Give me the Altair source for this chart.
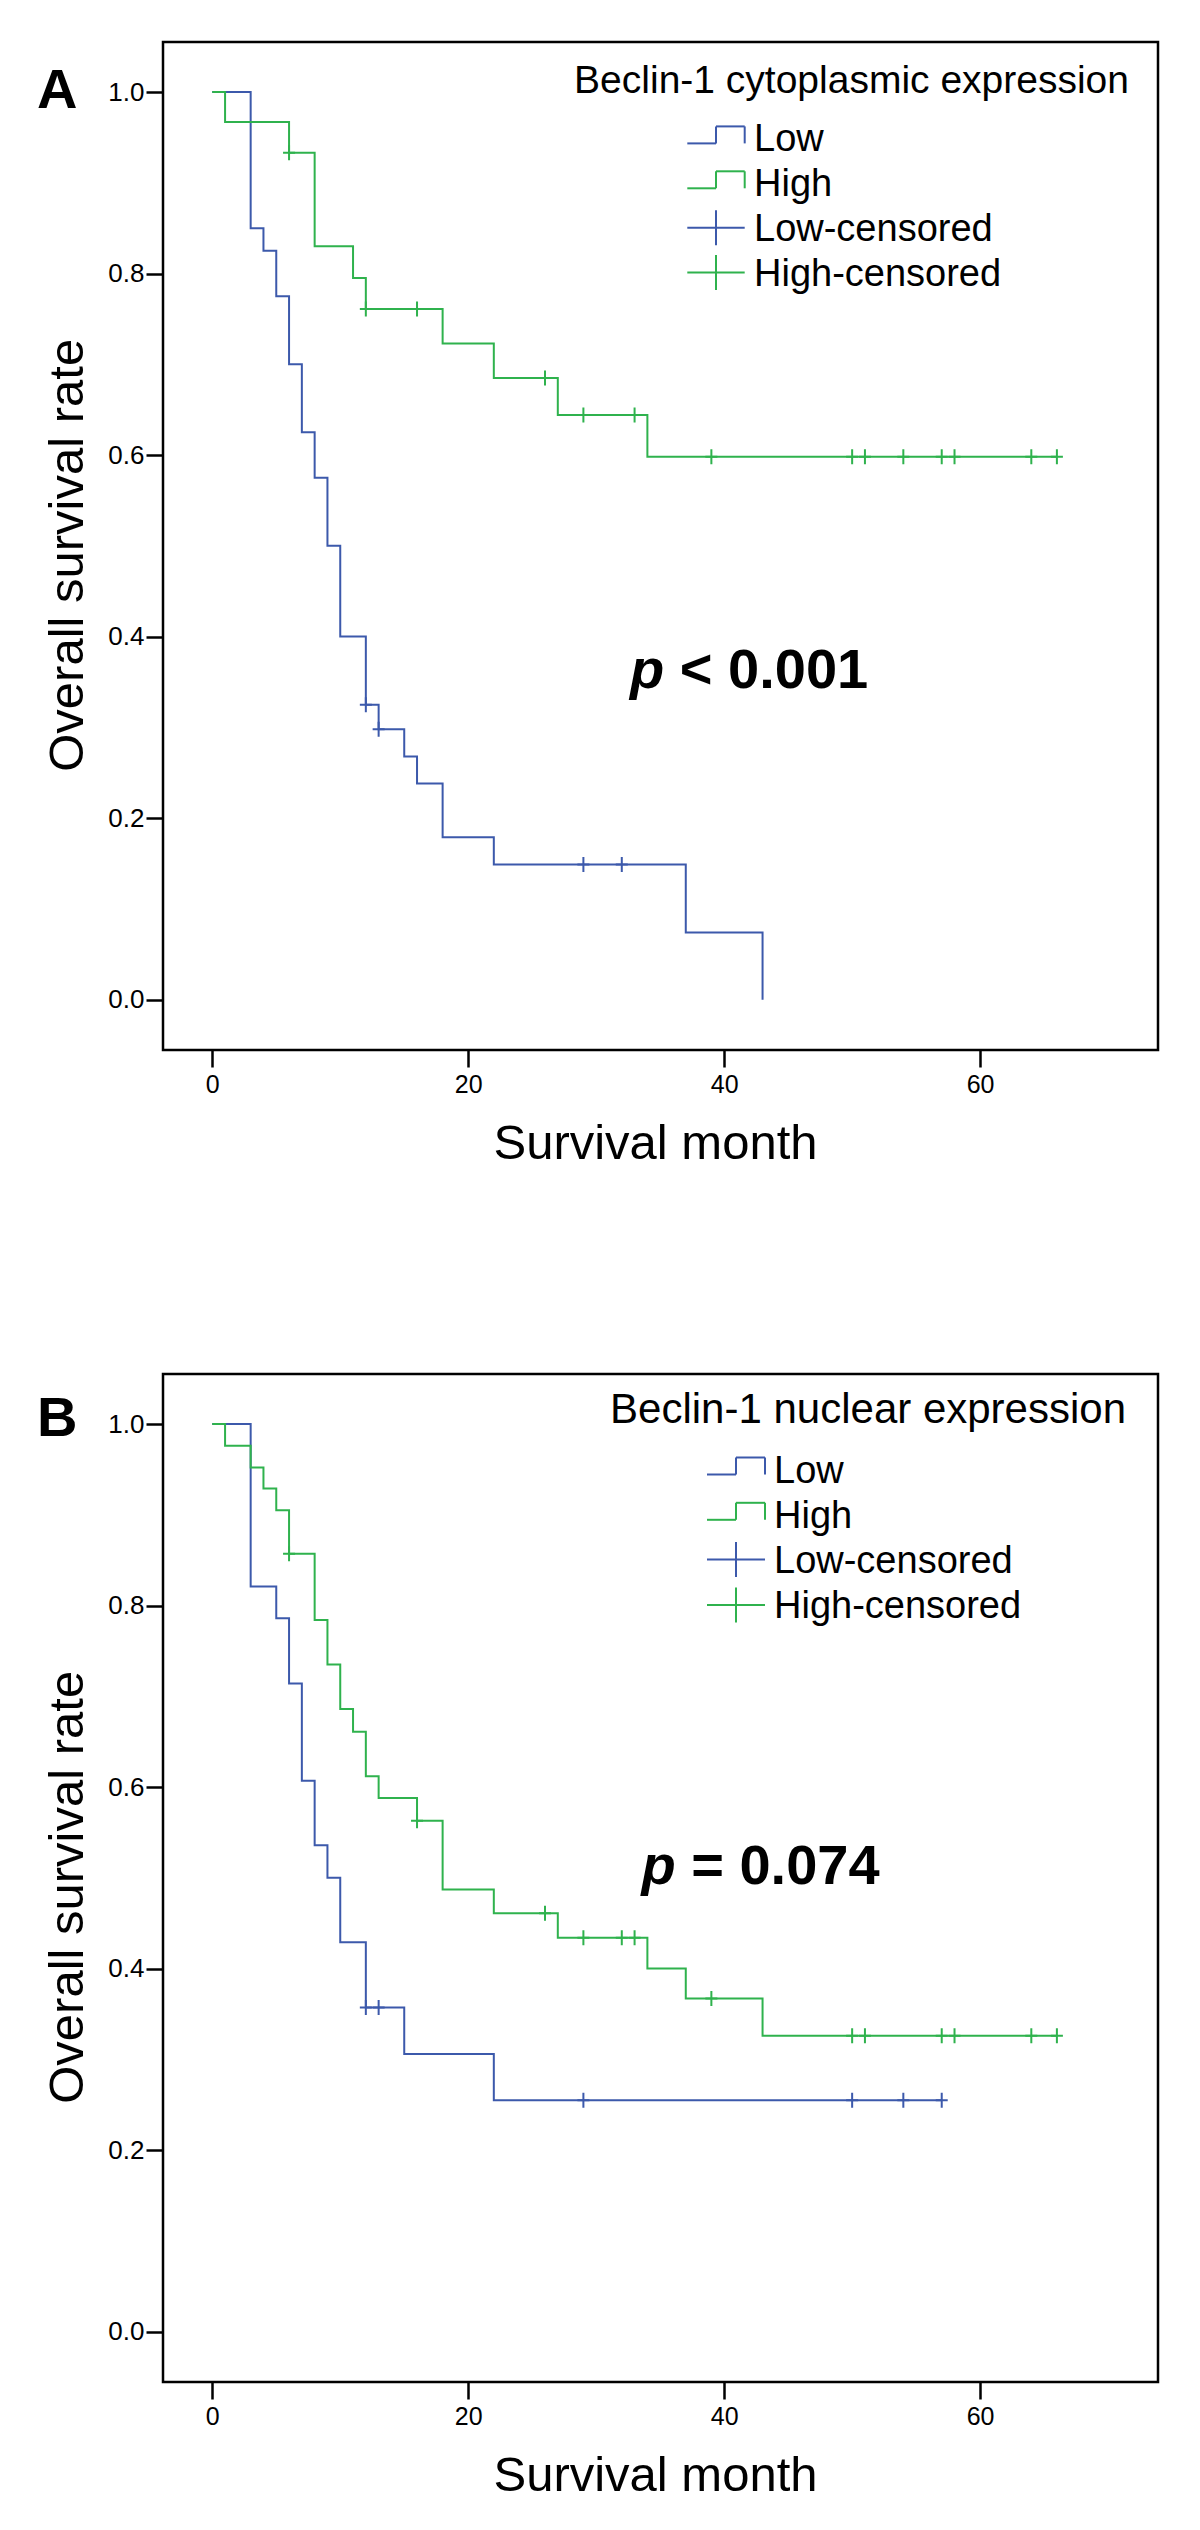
import altair as alt
import pandas as pd

# ---------------- data ----------------
# Panel A: Beclin-1 cytoplasmic expression
a_low_time = [0, 3, 4, 5, 6, 7, 8, 9, 10, 12, 13, 15, 16, 18, 22, 37, 43]
a_low_surv = [1.0, 0.850, 0.825, 0.775, 0.700, 0.625, 0.575, 0.500, 0.400,
              0.325, 0.298, 0.268, 0.238, 0.179, 0.149, 0.074, 0.0]
a_low_cens_time = [12, 13, 29, 32]
a_low_cens_surv = [0.325, 0.298, 0.149, 0.149]

a_high_time = [0, 1, 6, 8, 11, 12, 18, 22, 27, 34, 66]
a_high_surv = [1.0, 0.967, 0.933, 0.830, 0.795, 0.761, 0.723, 0.685, 0.644, 0.598, 0.598]
a_high_cens_time = [6, 12, 16, 26, 29, 33, 39, 50, 51, 54, 57, 58, 64, 66]
a_high_cens_surv = [0.933, 0.761, 0.761, 0.685, 0.644, 0.644, 0.598, 0.598,
                    0.598, 0.598, 0.598, 0.598, 0.598, 0.598]

# Panel B: Beclin-1 nuclear expression
b_low_time = [0, 3, 5, 6, 7, 8, 9, 10, 12, 15, 22, 57]
b_low_surv = [1.0, 0.821, 0.786, 0.714, 0.607, 0.536, 0.500, 0.429, 0.357, 0.306, 0.255, 0.255]
b_low_cens_time = [12, 13, 29, 50, 54, 57]
b_low_cens_surv = [0.357, 0.357, 0.255, 0.255, 0.255, 0.255]

b_high_time = [0, 1, 3, 4, 5, 6, 8, 9, 10, 11, 12, 13, 16, 18, 22, 27, 34, 37, 43, 66]
b_high_surv = [1.0, 0.976, 0.952, 0.929, 0.905, 0.857, 0.784, 0.735, 0.686, 0.661,
               0.612, 0.588, 0.563, 0.487, 0.461, 0.434, 0.400, 0.367, 0.326, 0.326]
b_high_cens_time = [6, 16, 26, 29, 32, 33, 39, 50, 51, 57, 58, 64, 66]
b_high_cens_surv = [0.857, 0.563, 0.461, 0.434, 0.434, 0.434, 0.367, 0.326,
                    0.326, 0.326, 0.326, 0.326, 0.326]

legend_labels = ["Low", "High", "Low-censored", "High-censored"]
x_ticks = [0, 20, 40, 60]
y_ticks = [0.0, 0.2, 0.4, 0.6, 0.8, 1.0]

BLUE = "#3c59ab"
GREEN = "#2fb24d"
FONT = "Liberation Sans"
W, H = 995, 1008

x_scale = alt.Scale(domain=[-3.85, 73.9], nice=False, zero=False)
y_scale = alt.Scale(domain=[-0.0555, 1.0551], nice=False, zero=False)

CROSS = "M-0.8,0L0.8,0M0,-1L0,1"
ONE = pd.DataFrame({"k": [0]})


def df(t, s):
    return pd.DataFrame({"time": t, "surv": s})


def text_layer(txt, x, y, size, align="left", weight="normal", style="normal", baseline="alphabetic"):
    return alt.Chart(ONE).mark_text(
        text=txt, align=align, baseline=baseline, font=FONT, fontSize=size,
        fontWeight=weight, fontStyle=style, color="black"
    ).encode(x=alt.value(x), y=alt.value(y))


def seg(x0, x1, y0, y1, color):
    return alt.Chart(ONE).mark_rule(color=color, strokeWidth=2).encode(
        x=alt.value(x0), x2=alt.value(x1), y=alt.value(y0), y2=alt.value(y1))


def panel(low_t, low_s, lowc_t, lowc_s, high_t, high_s, highc_t, highc_s,
          letter, letter_base, leg_title, leg_title_size, leg_title_x, leg_title_base,
          sym_x0, sym_x1, lab_x, base0, gap, p_main, p_x, p_base):
    xax = alt.Axis(values=x_ticks, format="d", title="Survival month",
                   titleX=492, titleY=108.6, titleBaseline="alphabetic", titleAlign="center")
    yax = alt.Axis(values=y_ticks, format=".1f", title="Overall survival rate",
                   titleX=-80.3, titleY=512.8, titleAngle=270, titleBaseline="alphabetic",
                   titleAlign="center")

    def enc():
        return dict(x=alt.X("time:Q", scale=x_scale, axis=xax),
                    y=alt.Y("surv:Q", scale=y_scale, axis=yax))

    def line(d, color):
        return alt.Chart(d).mark_line(interpolate="step-after", color=color,
                                      strokeWidth=2).encode(**enc())

    def cens(d, color):
        return alt.Chart(d).mark_point(shape=CROSS, filled=False, size=225, strokeWidth=2,
                                       color=color, opacity=1).encode(**enc())

    layers = [
        line(df(low_t, low_s), BLUE),
        line(df(high_t, high_s), GREEN),
        cens(df(lowc_t, lowc_s), BLUE),
        cens(df(highc_t, highc_s), GREEN),
    ]

    # legend (drawn by hand, SPSS style)
    xm = (sym_x0 + sym_x1) / 2
    colors = [BLUE, GREEN, BLUE, GREEN]
    for i, (lab, col) in enumerate(zip(legend_labels, colors)):
        b = base0 + gap * i
        if i < 2:
            lo, up = b - 8, b - 25
            layers += [seg(sym_x0, xm, lo, lo, col), seg(xm, xm, lo, up, col),
                       seg(xm, sym_x1, up, up, col), seg(sym_x1, sym_x1, up, lo, col)]
        else:
            yc = b - 13.5
            layers += [seg(sym_x0, sym_x1, yc, yc, col), seg(xm, xm, yc - 17.5, yc + 17.5, col)]
        layers.append(text_layer(lab, lab_x, b, 38))
    layers.append(text_layer(leg_title, leg_title_x, leg_title_base, leg_title_size, align="right"))

    # p value
    layers.append(text_layer("p", p_x, p_base, 56, weight="bold", style="italic"))
    layers.append(text_layer(p_main, p_x + 49.8, p_base, 56, weight="bold"))

    # panel letter
    layers.append(text_layer(letter, -126, letter_base, 56, weight="bold"))

    return alt.layer(*layers).properties(width=W, height=H)


panel_a = panel(a_low_time, a_low_surv, a_low_cens_time, a_low_cens_surv,
                a_high_time, a_high_surv, a_high_cens_time, a_high_cens_surv,
                "A", 66.3, "Beclin-1 cytoplasmic expression", 39, 966, 50.5,
                524.3, 581.7, 591, 109.4, 44.9, "< 0.001", 467, 646.3)

panel_b = panel(b_low_time, b_low_surv, b_low_cens_time, b_low_cens_surv,
                b_high_time, b_high_surv, b_high_cens_time, b_high_cens_surv,
                "B", 62.4, "Beclin-1 nuclear expression", 42, 963, 49,
                544, 602, 611, 108.5, 45.3, "= 0.074", 478.4, 509.8)

chart = alt.vconcat(panel_a, panel_b, spacing=202).properties(
    padding={"left": 27, "top": 32, "right": 5, "bottom": 5}
).configure_view(
    stroke="black", strokeWidth=2.5
).configure_axis(
    domain=False, grid=False, ticks=True, tickColor="black", tickWidth=2.5, tickSize=17,
    labelFont=FONT, labelColor="black", titleFont=FONT, titleColor="black",
    titleFontSize=49, titleFontWeight="normal"
).configure_axisX(
    labelFontSize=25, labelPadding=5
).configure_axisY(
    labelFontSize=26, labelPadding=2
).configure_concat(spacing=202)

chart.save("out.html", embed_options={"renderer": "svg", "actions": False})
